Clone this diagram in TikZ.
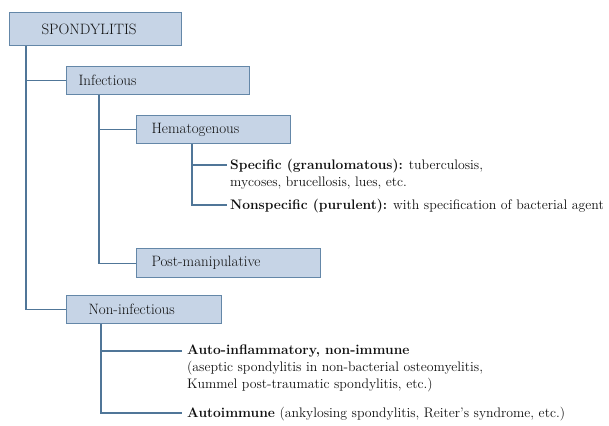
\documentclass[tikz,border=0pt]{standalone}
\usepackage{fontspec}
\usepackage{tikz}
\usetikzlibrary{positioning,calc}
\definecolor{boxfill}{RGB}{198,212,230}
\definecolor{boxline}{RGB}{100,135,168}
\definecolor{treeline}{RGB}{80,118,152}
\definecolor{inkgray}{RGB}{15,15,15}
\tikzset{
  catbox/.style={
    draw=boxline,
    fill=boxfill,
    line width=1.1pt,
    shape=rectangle,
    anchor=north west,
    minimum height=28pt,
    inner ysep=0pt,
    align=left,
    text=inkgray,
    font=\fontsize{15}{18}\selectfont
  },
  leaf/.style={
    anchor=north west,
    inner sep=0pt,
    align=left,
    text=inkgray,
    font=\fontsize{13.8}{17}\selectfont
  },
  branch/.style={
    draw=treeline,
    line width=1.1pt
  }
}

\begin{document}
\begin{tikzpicture}[x=1pt,y=-1pt]
  \useasboundingbox (0,0) rectangle (609,425);
  % boxes
  \node[catbox, minimum height=33pt, inner xsep=32pt, text width=108pt] (spond) at (9,12) {SPONDYLITIS};
  \node[catbox, inner xsep=12pt, text width=159pt] (infect) at (66,66) {Infectious};
  \node[catbox, inner xsep=15pt, text width=124pt] (hemat) at (136,115) {Hematogenous};
  \node[catbox, minimum height=29pt, inner xsep=15pt, text width=154pt] (postman) at (136,248) {Post-manipulative};
  \node[catbox, inner xsep=22pt, text width=111pt] (noninf) at (66,295) {Non-infectious};
  % leaves
  \node[leaf] (specific) at (230,159) {\textbf{Specific (granulomatous):} tuberculosis,\\mycoses, brucellosis, lues, etc.};
  \node[leaf] (nonspec) at (230,199) {\textbf{Nonspecific (purulent):} with specification of bacterial agent};
  \node[leaf] (autoinfl) at (187,345) {\textbf{Auto-inflammatory, non-immune}\\(aseptic spondylitis in non-bacterial osteomyelitis,\\Kummel post-traumatic spondylitis, etc.)};
  \node[leaf] (autoimm) at (187,407) {\textbf{Autoimmune} (ankylosing spondylitis, Reiter's syndrome, etc.)};
  % tree
  \draw[branch] ([xshift=17pt]spond.south west) |- (infect.west);
  \draw[branch] ([xshift=17pt]spond.south west) |- (noninf.west);
  \draw[branch] ([xshift=33pt]infect.south west) |- (hemat.west);
  \draw[branch] ([xshift=33pt]infect.south west) |- (postman.west);
  \draw[branch] ([xshift=56pt]hemat.south west) |- ([xshift=-3pt,yshift=-6pt]specific.north west);
  \draw[branch] ([xshift=56pt]hemat.south west) |- ([xshift=-3pt,yshift=-6pt]nonspec.north west);
  \draw[branch] ([xshift=35pt]noninf.south west) |- ([xshift=-5pt,yshift=-6pt]autoinfl.north west);
  \draw[branch] ([xshift=35pt]noninf.south west) |- ([xshift=-5pt,yshift=-6pt]autoimm.north west);
\end{tikzpicture}
\end{document}
